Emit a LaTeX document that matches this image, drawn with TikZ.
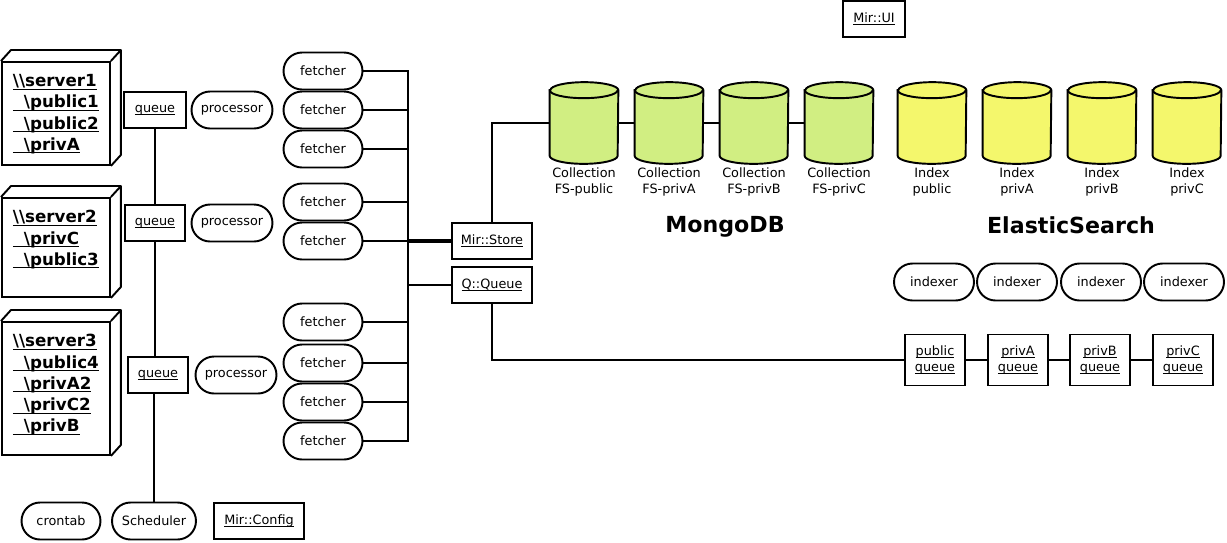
\documentclass[tikz,border=0pt]{standalone}
\usepackage{amsmath}
\usepackage{fontspec}
\setmainfont{DejaVu Sans}
\usepackage{xcolor}
\usepackage{tikz}
\usetikzlibrary{positioning,shapes.misc}
\definecolor{mongo}{HTML}{D1EE82}
\definecolor{elastic}{HTML}{F4F76C}
\newcommand{\uname}[1]{\underline{\smash[b]{#1}}\vphantom{#1}}
\tikzset{
  obj/.style={draw, line width=1.1pt, inner sep=0pt, minimum height=0.72cm, font=\fontsize{7.3}{9}\selectfont},
  proc/.style={rounded rectangle, draw, line width=1.1pt, inner sep=0pt, minimum width=1.58cm, minimum height=0.74cm, font=\fontsize{7.3}{9}\selectfont},
  srv/.style={draw, line width=1.1pt, anchor=north west, inner xsep=0.22cm, inner ysep=0.25cm, font=\fontsize{9.5}{12.1}\selectfont\bfseries},
  srvside/.style={line width=1.1pt, line join=round},
  dbnode/.style={inner sep=0pt, minimum width=1.36cm, minimum height=1.62cm},
  dbline/.style={line width=1.1pt},
  dblab/.style={inner sep=0pt, align=center, font=\fontsize{7.3}{9}\selectfont},
  wire/.style={line width=1pt},
  title/.style={font=\fontsize{12.6}{15}\selectfont\bfseries},
}

\begin{document}
\begin{tikzpicture}[x=0.02cm, y=-0.02cm]
  \useasboundingbox (0,0) rectangle (1227,542);
  % servers
  \node[srv] (srv1) at (1,61) {\parbox[c][1.56cm][t]{1.72cm}{\uname{\textbackslash\textbackslash server1}\\
    \uname{\hspace*{0.22cm}\textbackslash public1}\\
    \uname{\hspace*{0.22cm}\textbackslash public2}\\
    \uname{\hspace*{0.22cm}\textbackslash privA}}};
  \node[srv] (srv2) at (1,197) {\parbox[c][1.48cm][t]{1.72cm}{\uname{\textbackslash\textbackslash server2}\\
    \uname{\hspace*{0.22cm}\textbackslash privC}\\
    \uname{\hspace*{0.22cm}\textbackslash public3}}};
  \node[srv] (srv3) at (1,321) {\parbox[c][2.16cm][t]{1.72cm}{\uname{\textbackslash\textbackslash server3}\\
    \uname{\hspace*{0.22cm}\textbackslash public4}\\
    \uname{\hspace*{0.22cm}\textbackslash privA2}\\
    \uname{\hspace*{0.22cm}\textbackslash privC2}\\
    \uname{\hspace*{0.22cm}\textbackslash privB}}};
  \foreach \s in {srv1,srv2,srv3}
    \draw[srvside] (\s.north west) -- ++(10,-11) -| ([shift={(10,-11)}]\s.south east) -- (\s.south east)
      (\s.north east) -- ++(10,-11);

  % queues and processors
  \node[obj, minimum width=1.24cm] (q1) at (155,110) {\uname{queue}};
  \node[obj, minimum width=1.2cm] (q2) at (155,223) {\uname{queue}};
  \node[obj, minimum width=1.2cm] (q3) at (158,375) {\uname{queue}};
  \node[proc, minimum width=1.62cm] (p1) at (232,110) {processor};
  \node[proc, minimum width=1.62cm] (p2) at (232,223) {processor};
  \node[proc, minimum width=1.62cm] (p3) at (236,375) {processor};

  % bottom row
  \node[proc] (cron) at (61,521) {crontab};
  \node[proc, minimum width=1.68cm] (sched) at (154,521) {Scheduler};
  \node[obj, minimum width=1.8cm] (conf) at (259,521) {\uname{Mir::Config}};

  % fetchers
  \foreach \i/\y in {1/71,2/110,3/149,4/202,5/241,6/322,7/363,8/402,9/441}
    \node[proc] (f\i) at (323,\y) {fetcher};
  \coordinate (bus) at (408,0);

  \node[obj, minimum width=1.6cm] (store) at (492,241) {\uname{Mir::Store}};
  \node[obj, minimum width=1.6cm] (qq) at (492,285) {\uname{Q::Queue}};
  \node[obj, minimum width=1.24cm] (ui) at (874,19) {\uname{Mir::UI}};

  % mongo collections
  \foreach \i/\x/\n in {1/584/public,2/669/privA,3/754/privB,4/839/privC}{
    \node[dbnode] (coll\i) at (\x,123) {};
    \draw[dbline, fill=mongo] ([yshift=-0.16cm]coll\i.north west) -- ([yshift=0.16cm]coll\i.south west)
      arc[start angle=180, end angle=360, x radius=0.68cm, y radius=0.16cm] -- ([yshift=-0.16cm]coll\i.north east)
      arc[start angle=0, end angle=180, x radius=0.68cm, y radius=0.16cm] -- cycle;
    \draw[dbline] ([yshift=-0.16cm]coll\i.north west) arc[start angle=180, end angle=360, x radius=0.68cm, y radius=0.16cm];
    \node[dblab, below=2pt of coll\i] (coll\i-lab) {Collection\\FS-\n};
  }
  \node[title] (mongo) at (725,227) {MongoDB};

  % elastic indexes
  \foreach \i/\x/\n in {1/932/public,2/1017/privA,3/1102/privB,4/1187/privC}{
    \node[dbnode] (idx\i) at (\x,123) {};
    \draw[dbline, fill=elastic] ([yshift=-0.16cm]idx\i.north west) -- ([yshift=0.16cm]idx\i.south west)
      arc[start angle=180, end angle=360, x radius=0.68cm, y radius=0.16cm] -- ([yshift=-0.16cm]idx\i.north east)
      arc[start angle=0, end angle=180, x radius=0.68cm, y radius=0.16cm] -- cycle;
    \draw[dbline] ([yshift=-0.16cm]idx\i.north west) arc[start angle=180, end angle=360, x radius=0.68cm, y radius=0.16cm];
    \node[dblab, below=2pt of idx\i] (idx\i-lab) {Index\\\n};
  }
  \node[title] (elastic) at (1071,225) {ElasticSearch};

  \foreach \i/\x in {1/934,2/1017,3/1101,4/1184}
    \node[proc, minimum width=1.6cm] (ixr\i) at (\x,282) {indexer};
  \foreach \i/\x/\n in {1/935/public,2/1018/privA,3/1100/privB,4/1183/privC}
    \node[obj, minimum width=1.2cm, minimum height=1.02cm, align=center] (pq\i) at (\x,360) {\uname{\n}\\\uname{queue}};

  % wires
  \draw[wire] (q1) -- (q2);
  \draw[wire] (q2.south) -- (q3.north -| q2.south);
  \draw[wire] (q3.south -| sched.north) -- (sched.north);
  \draw[wire] (f1.east) -| (bus |- f9.east) -- (f9.east);
  \foreach \i in {2,...,8}
    \draw[wire] (f\i.east) -- (f\i.east -| bus);
  \draw[line width=1.8pt] (f5.east -| bus) -- (store.west);
  \draw[wire] (bus |- qq.west) -- (qq.west);
  \draw[wire] (store.north) |- (coll1.west);
  \foreach \i/\j in {1/2,2/3,3/4}
    \draw[wire] (coll\i.east) -- (coll\j.west);
  \draw[wire] (qq.south) |- (pq1.west);
  \foreach \i/\j in {1/2,2/3,3/4}
    \draw[wire] (pq\i.east) -- (pq\j.west);
\end{tikzpicture}
\end{document}
